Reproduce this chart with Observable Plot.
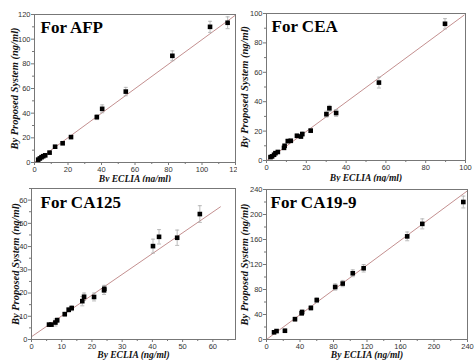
<!DOCTYPE html>
<html><head><meta charset="utf-8">
<script src="https://cdn.jsdelivr.net/npm/d3@7"></script>
<script src="https://cdn.jsdelivr.net/npm/@observablehq/plot@0.6"></script>
<style>
body{margin:0;background:#fff;}
#wrap{position:relative;width:474px;height:360px;overflow:hidden;background:#fff}
.panel{position:absolute;width:237px;overflow:hidden}
</style></head><body><div id="wrap"></div>
<script>
// ---- AFP ----
const afpX   = [2.2, 3.2, 4.2, 5.2, 6.4, 9.0, 12.3, 16.8, 21.8, 37.2, 40.4, 54.5, 82.3, 104.8, 115.3];
const afpY   = [2.3, 3.3, 4.3, 5.1, 5.8, 8.0, 12.8, 15.6, 20.6, 36.8, 43.5, 57.5, 86.5, 110.0, 113.3];
const afpErr = [0.5, 0.5, 0.6, 0.6, 0.7, 0.8, 1.0, 1.2, 1.2, 2.0, 3.2, 3.4, 4.0, 4.5, 4.8];
const afpFitX = [0, 120];
const afpFitY = [0.2, 119.5];
const afpTicks = [0, 20, 40, 60, 80, 100, 120];
const afpMinor = [10, 30, 50, 70, 90, 110];

// ---- CEA ----
const ceaX   = [2.0, 2.8, 3.8, 4.5, 5.7, 8.8, 9.1, 10.7, 12.2, 15.3, 17.3, 18.0, 22.2, 30.1, 31.6, 35.0, 56.5, 89.7];
const ceaY   = [2.3, 2.8, 3.9, 5.0, 5.8, 8.6, 10.0, 13.2, 13.4, 16.8, 16.3, 18.0, 20.3, 31.5, 35.5, 32.3, 53.0, 93.0];
const ceaErr = [0.6, 0.6, 0.7, 0.8, 0.8, 1.0, 1.0, 1.2, 1.2, 1.2, 1.2, 1.3, 1.3, 2.0, 2.0, 2.3, 3.7, 3.5];
const ceaFitX = [0, 99.3];
const ceaFitY = [-0.2, 98.9];
const ceaTicks = [0, 20, 40, 60, 80, 100];
const ceaMinor = [10, 30, 50, 70, 90];

// ---- CA125 ----
const ca125X   = [5.8, 6.6, 7.9, 8.5, 11.0, 12.3, 13.3, 16.8, 17.4, 20.7, 24.0, 24.1, 40.2, 42.2, 48.2, 55.7];
const ca125Y   = [6.4, 6.4, 7.3, 8.3, 10.9, 12.8, 13.5, 16.5, 18.4, 18.3, 21.2, 21.8, 40.2, 44.2, 43.8, 54.0];
const ca125Err = [0.6, 0.6, 1.5, 1.0, 0.8, 1.0, 1.1, 2.0, 1.6, 1.7, 1.8, 1.5, 3.0, 3.1, 3.3, 3.6];
const ca125FitX = [0, 62.5];
const ca125FitY = [1.2, 57.1];
const ca125Ticks = [0, 10, 20, 30, 40, 50, 60];
const ca125Minor = [5, 15, 25, 35, 45, 55, 65];

// ---- CA19-9 ----
const ca199X   = [9, 12, 22, 34, 42, 42.5, 53, 60, 82, 91, 103, 116, 168, 186, 235];
const ca199Y   = [11.5, 13.5, 14, 32.5, 42, 44, 50.5, 63, 84, 89.5, 106, 114, 165, 185, 220];
const ca199Err = [2, 2, 2.5, 3, 3, 3, 3.5, 4, 5, 5, 5.5, 6, 7, 8, 9.5];
const ca199FitX = [0, 240];
const ca199FitY = [0, 238];
const ca199Ticks = [0, 40, 80, 120, 160, 200, 240];
const ca199Minor = [20, 60, 100, 140, 180, 220];

const titles = ["For AFP", "For CEA", "For CA125", "For CA19-9"];
const yLabel = "By Proposed System (ng/ml)";
const xLabel = "By ECLIA (ng/ml)";

const panels = [
  {title: titles[0], x: afpX, y: afpY, e: afpErr, fitX: afpFitX, fitY: afpFitY,
   xDomain: [0, 120], yDomain: [0, 120], ticks: afpTicks, minor: afpMinor,
   left: 0, top: 0, h: 182, mt: 14, mr: 2, mb: 18, ml: 34, tdx: 6, tdy: 18.7, ydx: -20, xdy: 16},
  {title: titles[1], x: ceaX, y: ceaY, e: ceaErr, fitX: ceaFitX, fitY: ceaFitY,
   xDomain: [0, 100], yDomain: [0, 100], ticks: ceaTicks, minor: ceaMinor,
   left: 237, top: 0, h: 182, mt: 13, mr: 9, mb: 20, ml: 29, tdx: 5, tdy: 18.7, ydx: -22, xdy: 17},
  {title: titles[2], x: ca125X, y: ca125Y, e: ca125Err, fitX: ca125FitX, fitY: ca125FitY,
   xDomain: [0, 67.5], yDomain: [0, 65], ticks: ca125Ticks, minor: ca125Minor,
   left: 0, top: 180, h: 180, mt: 8, mr: 2, mb: 21, ml: 31, tdx: 9, tdy: 19.7, ydx: -16, xdy: 15.5},
  {title: titles[3], x: ca199X, y: ca199Y, e: ca199Err, fitX: ca199FitX, fitY: ca199FitY,
   xDomain: [0, 240], yDomain: [0, 240], ticks: ca199Ticks, minor: ca199Minor,
   left: 237, top: 180, h: 180, mt: 9, mr: 7, mb: 21, ml: 29, tdx: 4, tdy: 18.7, ydx: -22, xdy: 15}
];

const serif = "Liberation Serif, Times New Roman, serif";
const sans = "Liberation Sans, Arial, sans-serif";
const capSymbol = {draw(ctx, size) { const w = Math.sqrt(size) / 2; ctx.moveTo(-w, 0); ctx.lineTo(w, 0); }};

const wrap = document.getElementById("wrap");
for (const p of panels) {
  const data = p.x.map((x, i) => ({x, y: p.y[i], e: p.e[i]}));
  const minorInX = p.minor.filter(v => v <= p.xDomain[1]);
  const minorInY = p.minor.filter(v => v <= p.yDomain[1]);
  const chart = Plot.plot({
    width: 237, height: 180,
    marginTop: p.mt, marginRight: p.mr, marginBottom: p.mb, marginLeft: p.ml,
    style: {background: "transparent", overflow: "visible", fontFamily: sans},
    x: {domain: p.xDomain, label: null},
    y: {domain: p.yDomain, label: null},
    marks: [
      Plot.line({length: p.fitX.length}, {x: p.fitX, y: p.fitY, stroke: "#c49090", strokeWidth: 1}),
      Plot.ruleX(data, {x: "x", y1: d => d.y - d.e, y2: d => d.y + d.e, stroke: "#aaa", strokeWidth: 0.8}),
      Plot.dot(data, {x: "x", y: d => d.y + d.e, symbol: capSymbol, r: 2.26, stroke: "#aaa", strokeWidth: 0.8, fill: "none"}),
      Plot.dot(data, {x: "x", y: d => d.y - d.e, symbol: capSymbol, r: 2.26, stroke: "#aaa", strokeWidth: 0.8, fill: "none"}),
      Plot.dot(data, {x: "x", y: "y", symbol: "square", r: 2.6, fill: "#000", stroke: null}),
      Plot.frame({stroke: "#777", strokeWidth: 1}),
      Plot.axisX({ticks: p.ticks, tickSize: 3, tickPadding: 1, fontSize: 7.5, fontFamily: sans, fill: "#333", stroke: "#777", label: null}),
      Plot.axisX({ticks: minorInX, tickSize: 2, tickFormat: () => "", stroke: "#777", label: null}),
      Plot.axisY({ticks: p.ticks, tickSize: 3, tickPadding: 1, fontSize: 7.5, fontFamily: sans, fill: "#333", stroke: "#777", label: null}),
      Plot.axisY({ticks: minorInY, tickSize: 2, tickFormat: () => "", stroke: "#777", label: null}),
      Plot.text([p.title], {text: d => d, frameAnchor: "top-left", textAnchor: "start", lineAnchor: "bottom",
        dx: p.tdx, dy: p.tdy, fontSize: 17, fontWeight: "bold", fontFamily: serif, fill: "#000"}),
      Plot.text([yLabel], {text: d => d, frameAnchor: "left", rotate: -90, dx: p.ydx, textAnchor: "middle", lineAnchor: "middle",
        fontSize: 10.5, fontStyle: "italic", fontWeight: "bold", fontFamily: serif, fill: "#111"}),
      Plot.text([xLabel], {text: d => d, frameAnchor: "bottom", dy: p.xdy, textAnchor: "middle", lineAnchor: "middle",
        fontSize: 9.5, fontStyle: "italic", fontWeight: "bold", fontFamily: serif, fill: "#111"})
    ]
  });
  chart.querySelectorAll("[font-family]").forEach(el => { el.style.fontFamily = el.getAttribute("font-family"); });
  const div = document.createElement("div");
  div.className = "panel";
  div.style.left = p.left + "px";
  div.style.top = p.top + "px";
  div.style.height = p.h + "px";
  div.appendChild(chart);
  wrap.appendChild(div);
}
</script>
</body></html>
